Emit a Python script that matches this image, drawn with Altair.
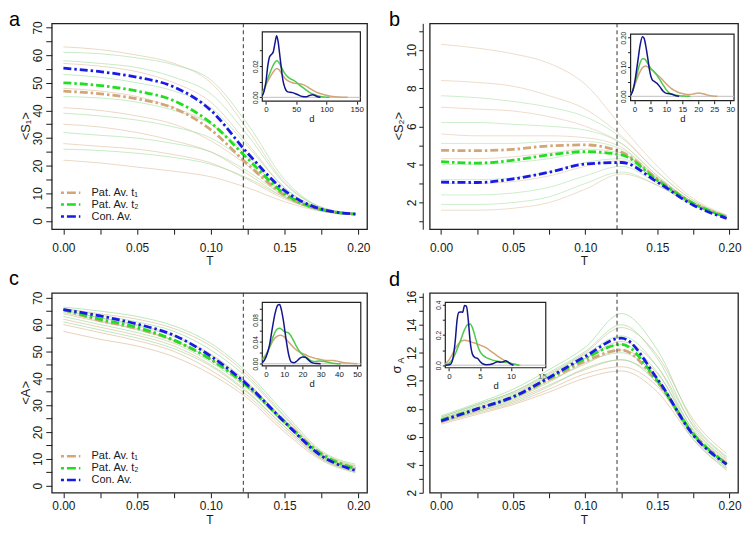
import altair as alt
import pandas as pd

# ---------------- shared values ----------------
T_GRID = [0, 0.025, 0.05, 0.075, 0.1, 0.125, 0.15, 0.175, 0.198]
T_CRIT = [0.122]
X_DOMAIN = [-0.0079, 0.2059]
X_TICKS = [0, 0.025, 0.05, 0.075, 0.1, 0.125, 0.15, 0.175, 0.2]
X_LABELS = [0, 0.05, 0.1, 0.15, 0.2]

SERIES = ["Pat. Av. t\u2081", "Pat. Av. t\u2082", "Con. Av."]
AVG_COLORS = ["#D2A679", "#22DD22", "#1A1AE6"]
FAINT_COLORS = ["#D9B38C", "#8FD88F"]
INSET_COLORS = ["#D2A679", "#4CC94C", "#14148C"]
PANEL_LABELS = ["a", "b", "c", "d"]
Y_TITLES = ["<S\u2081>", "<S\u2082>", "<A>", "\u03c3"]

# ---------------- panel a : <S1> ----------------
A_FAINT_TAN = [
    [63, 62, 60, 57, 50, 33, 14, 5, 2.8],
    [57, 56, 54, 50, 43, 28, 12, 4.5, 2.7],
    [48, 47, 45, 41, 35, 23, 10, 4, 2.6],
    [41, 40, 38, 35, 29, 20, 9, 4, 2.6],
    [35, 34, 32, 29, 25, 17, 8.5, 3.8, 2.5],
    [28, 27, 26, 24, 21, 15, 8, 3.8, 2.5],
    [22, 21, 19.5, 18, 16, 12, 7, 3.5, 2.4],
]
A_FAINT_GREEN = [
    [61, 60.5, 59, 56.5, 51, 35, 15, 5, 2.8],
    [58, 57, 55.5, 52, 46, 31, 13.5, 4.8, 2.7],
    [53, 52, 50, 47, 41, 27, 12, 4.5, 2.7],
    [45, 44.5, 43, 40, 35, 24, 11, 4.2, 2.6],
    [39, 38, 36.5, 34, 30, 21, 10, 4, 2.6],
    [32, 31, 30, 28, 25, 18, 9, 3.8, 2.5],
    [26, 25.5, 24.5, 23, 20.5, 15.5, 8.5, 3.7, 2.5],
]
A_AVG_T1 = [47, 46, 44.2, 40.8, 33, 20.5, 9.3, 4, 2.5]
A_AVG_T2 = [50, 49, 47, 43.5, 35.5, 22.5, 9.9, 4.1, 2.5]
A_AVG_CON = [55.3, 54, 52, 48.5, 40, 24.5, 11, 4.3, 2.5]
A_YDOM = [-2.96, 71.5]
A_YTICKS = [0, 5, 10, 15, 20, 25, 30, 35, 40, 45, 50, 55, 60, 65, 70]
A_YLABELS = [0, 10, 20, 30, 40, 50, 60, 70]
A_IN_XDOM = [-6, 156]
A_IN_YDOM = [-0.0025, 0.042]
A_IN_XTICKS = [0, 50, 100, 150]
A_IN_YTICKS = [0, 0.01, 0.02, 0.03]
A_IN_YLABELS = [0, 0.02]
A_IN_CON_D = [-6, -3, 0, 3, 6, 9, 12, 15, 17.7, 20, 22, 25, 28, 31, 36, 44, 52, 60, 66, 72, 77, 81, 85, 90]
A_IN_CON_Y = [0.001, 0.004, 0.010, 0.020, 0.026, 0.0275, 0.029, 0.035, 0.0396, 0.036, 0.030, 0.020, 0.011,
              0.0065, 0.0035, 0.003, 0.0018, 0.0005, 0.0003, 0.0012, 0.0016, 0.0012, 0.0004, 0.0]
A_IN_T2_D = [-6, -2, 2, 6, 10, 14, 18, 22, 26, 30, 35, 40, 45, 50, 55, 60, 66, 72, 78, 85, 92, 100, 105]
A_IN_T2_Y = [0.002, 0.006, 0.011, 0.015, 0.019, 0.022, 0.0237, 0.022, 0.019, 0.016, 0.0135, 0.012, 0.011,
             0.0098, 0.008, 0.0065, 0.0048, 0.0032, 0.002, 0.001, 0.0004, 0.0001, 0.0]
A_IN_T1_D = [-6, -2, 2, 6, 10, 14, 18, 22, 27, 32, 38, 45, 52, 58, 65, 72, 80, 88, 96, 105, 115, 125, 135]
A_IN_T1_Y = [0.003, 0.006, 0.0095, 0.0125, 0.015, 0.0172, 0.0185, 0.0175, 0.0145, 0.012, 0.0102, 0.0092,
             0.0088, 0.0085, 0.0075, 0.0058, 0.004, 0.0026, 0.0016, 0.0009, 0.0004, 0.0001, 0.0]

# ---------------- panel b : <S2> ----------------
B_FAINT_TAN = [
    [10.3, 10.1, 9.8, 9.3, 8.2, 6.0, 3.9, 2.2, 1.35],
    [8.4, 8.3, 8.1, 7.6, 6.9, 5.5, 3.6, 2.1, 1.3],
    [7.0, 6.9, 6.8, 6.5, 6.0, 5.1, 3.4, 2.0, 1.3],
    [5.6, 5.5, 5.5, 5.5, 5.4, 4.9, 3.3, 2.0, 1.3],
    [4.3, 4.3, 4.4, 4.6, 4.8, 4.6, 3.2, 1.95, 1.25],
    [3.0, 3.0, 3.1, 3.4, 3.9, 4.2, 3.1, 1.9, 1.2],
    [1.6, 1.6, 1.7, 2.0, 2.7, 3.5, 2.9, 1.85, 1.2],
]
B_FAINT_GREEN = [
    [7.6, 7.5, 7.3, 7.0, 6.5, 5.4, 3.6, 2.1, 1.3],
    [6.2, 6.2, 6.1, 6.0, 5.8, 5.1, 3.4, 2.0, 1.3],
    [5.1, 5.1, 5.1, 5.2, 5.2, 4.8, 3.3, 2.0, 1.25],
    [4.0, 4.0, 4.1, 4.3, 4.6, 4.5, 3.2, 1.95, 1.25],
    [3.2, 3.2, 3.3, 3.6, 4.1, 4.3, 3.1, 1.9, 1.2],
    [2.4, 2.4, 2.5, 2.8, 3.4, 3.9, 3.0, 1.9, 1.2],
    [1.9, 1.9, 2.0, 2.3, 3.0, 3.6, 2.9, 1.85, 1.2],
]
B_AVG_T1 = [4.74, 4.72, 4.79, 4.97, 5.02, 4.65, 3.24, 1.95, 1.26]
B_AVG_T2 = [4.14, 4.07, 4.22, 4.5, 4.67, 4.5, 3.16, 1.95, 1.22]
B_AVG_CON = [3.07, 3.05, 3.24, 3.59, 4.02, 4.1, 3.07, 1.86, 1.17]
B_YDOM = [0.6, 11.4]
B_YTICKS = [1, 2, 3, 4, 5, 6, 7, 8, 9, 10, 11]
B_YLABELS = [2, 4, 6, 8, 10]
B_IN_XDOM = [-1.2, 31.2]
B_IN_YDOM = [-0.015, 0.212]
B_IN_XTICKS = [0, 5, 10, 15, 20, 25, 30]
B_IN_YTICKS = [0, 0.05, 0.1, 0.15, 0.2]
B_IN_YLABELS = [0, 0.1, 0.2]
B_IN_CON_D = [-1.2, -0.5, 0.2, 1.0, 1.8, 2.5, 3.0, 3.5, 4.1, 4.8, 5.5, 6.3, 7.0, 8.0, 9.0, 10.0, 11.0, 12.0, 13.0, 14.0]
B_IN_CON_Y = [0.003, 0.02, 0.055, 0.115, 0.175, 0.203, 0.198, 0.175, 0.135, 0.085, 0.058, 0.05, 0.045, 0.032,
              0.017, 0.01, 0.009, 0.006, 0.002, 0.0]
B_IN_T2_D = [-1.2, -0.5, 0.5, 1.5, 2.5, 3.2, 4.0, 5.0, 6.0, 7.0, 8.0, 9.0, 10.0, 11.0, 12.5, 14.0, 16.0, 17.5]
B_IN_T2_Y = [0.003, 0.02, 0.06, 0.105, 0.128, 0.127, 0.115, 0.097, 0.085, 0.072, 0.056, 0.038, 0.022, 0.011,
             0.005, 0.002, 0.0005, 0.0]
B_IN_T1_D = [-1.2, -0.5, 0.5, 1.5, 2.5, 3.5, 4.5, 5.5, 6.5, 7.5, 8.5, 9.5, 10.5, 11.5, 12.5, 14, 15.5, 17,
             18.5, 20, 21.5, 23, 24.5, 26]
B_IN_T1_Y = [0.008, 0.02, 0.05, 0.078, 0.097, 0.103, 0.098, 0.09, 0.08, 0.07, 0.06, 0.048, 0.037, 0.027, 0.02,
             0.012, 0.008, 0.006, 0.008, 0.011, 0.009, 0.004, 0.001, 0.0]

# ---------------- panel c : <A> ----------------
C_FAINT_TAN = [
    [66, 64, 62, 58.5, 52, 41, 26, 12.5, 7.5],
    [65, 62.5, 60, 56, 49, 38.5, 24, 11.5, 6.8],
    [64, 61, 58.5, 54, 47, 36.5, 23, 11, 6.3],
    [62, 59, 56, 52, 45, 35, 22, 10.5, 5.8],
    [60, 57, 54, 50, 43, 33.5, 21, 10, 5.3],
    [57.5, 54.5, 52, 48, 41.5, 32.5, 20, 9.5, 4.8],
]
C_FAINT_GREEN = [
    [66.5, 65, 63, 59.5, 53, 42, 27, 13, 8],
    [66, 63.5, 61, 57.5, 50.5, 40, 25.5, 12, 7.2],
    [65.5, 62.5, 59.5, 55.5, 48.5, 38, 24.5, 11.5, 6.6],
    [64.5, 61.5, 58, 54, 47, 37, 23.5, 11, 6],
    [63, 60, 57, 53, 46, 36, 23, 10.5, 5.5],
    [61, 58, 55, 51, 44.5, 34.5, 22, 10, 5],
]
C_AVG_T1 = [65.5, 61.5, 58.5, 54, 47, 37, 24, 12, 6.5]
C_AVG_T2 = [65.6, 62, 59, 54.2, 47, 37, 23.7, 11.7, 6.3]
C_AVG_CON = [65.6, 63.2, 60.2, 56, 48.2, 37.5, 23.7, 11.1, 5.7]
C_YDOM = [-2.62, 71.8]
C_YTICKS = [0, 5, 10, 15, 20, 25, 30, 35, 40, 45, 50, 55, 60, 65, 70]
C_YLABELS = [0, 10, 20, 30, 40, 50, 60, 70]
C_IN_XDOM = [-2, 52]
C_IN_YDOM = [-0.004, 0.112]
C_IN_XTICKS = [0, 10, 20, 30, 40, 50]
C_IN_YTICKS = [0, 0.02, 0.04, 0.06, 0.08, 0.1]
C_IN_YLABELS = [0, 0.04, 0.08]
C_IN_CON_D = [-2, 0, 2, 3.5, 5, 6.5, 7.5, 8.5, 9.5, 11, 12.5, 14, 15.5, 17, 18.5, 20, 21.5, 23, 24.5, 26, 28, 30]
C_IN_CON_Y = [0.002, 0.012, 0.035, 0.065, 0.092, 0.107, 0.108, 0.098, 0.08, 0.045, 0.016, 0.003, 0.002, 0.005,
              0.01, 0.0125, 0.012, 0.008, 0.0035, 0.0012, 0.0003, 0.0]
C_IN_T2_D = [-2, 0, 2, 4, 6, 7.5, 9, 10.5, 12, 13.5, 15, 17, 19, 21, 23, 25, 27, 29, 31, 33, 35, 38, 41]
C_IN_T2_Y = [0.008, 0.015, 0.031, 0.05, 0.063, 0.065, 0.062, 0.058, 0.057, 0.052, 0.043, 0.03, 0.02, 0.014,
             0.01, 0.005, 0.004, 0.005, 0.0045, 0.0035, 0.002, 0.0006, 0.0]
C_IN_T1_D = [-2, 0, 2, 4, 6, 8, 10, 12, 14, 16, 18, 20, 22, 24, 26, 28, 31, 34, 37, 40, 43, 46, 50]
C_IN_T1_Y = [0.009, 0.017, 0.03, 0.043, 0.05, 0.052, 0.049, 0.041, 0.034, 0.027, 0.022, 0.019, 0.016, 0.013,
             0.011, 0.009, 0.007, 0.006, 0.006, 0.004, 0.002, 0.001, 0.0]

# ---------------- panel d : sigma_A ----------------
D_FAINT_TAN = [
    [7.4, 8.3, 9.2, 10.5, 12.0, 13.8, 11.8, 7.2, 4.8],
    [7.3, 8.1, 9.0, 10.3, 11.6, 12.8, 11.0, 6.8, 4.5],
    [7.2, 8.0, 8.8, 10.0, 11.2, 12.2, 10.5, 6.5, 4.3],
    [7.1, 7.8, 8.6, 9.7, 10.8, 11.5, 10.0, 6.2, 4.0],
    [7.0, 7.7, 8.4, 9.4, 10.5, 11.0, 9.6, 6.0, 3.8],
    [6.9, 7.6, 8.3, 9.2, 10.2, 10.7, 9.2, 5.8, 3.6],
]
D_FAINT_GREEN = [
    [7.5, 8.4, 9.4, 10.8, 12.4, 14.8, 12.2, 7.0, 4.6],
    [7.4, 8.3, 9.2, 10.6, 12.1, 14.0, 11.6, 6.7, 4.4],
    [7.3, 8.2, 9.1, 10.4, 11.9, 13.2, 11.0, 6.4, 4.2],
    [7.2, 8.0, 8.9, 10.2, 11.6, 12.6, 10.6, 6.2, 4.0],
    [7.1, 7.9, 8.7, 9.9, 11.3, 12.0, 10.2, 6.0, 3.8],
    [7.0, 7.8, 8.5, 9.6, 10.9, 11.5, 9.8, 5.8, 3.7],
]
D_AVG_T1 = [7.1, 7.95, 8.8, 10.1, 11.4, 12.2, 9.9, 6.2, 4.1]
D_AVG_T2 = [7.2, 8.0, 8.85, 10.2, 11.6, 12.6, 10.0, 6.2, 4.05]
D_AVG_CON = [7.13, 7.99, 8.86, 10.24, 11.74, 13.05, 10.13, 6.1, 4.03]
D_YDOM = [2.0, 16.28]
D_YTICKS = [2, 3, 4, 5, 6, 7, 8, 9, 10, 11, 12, 13, 14, 15, 16]
D_YLABELS = [2, 4, 6, 8, 10, 12, 14, 16]
D_IN_XDOM = [-0.6, 15.6]
D_IN_YDOM = [-0.017, 0.415]
D_IN_XTICKS = [0, 5, 10, 15]
D_IN_YTICKS = [0, 0.1, 0.2, 0.3, 0.4]
D_IN_YLABELS = [0, 0.2, 0.4]
D_IN_CON_D = [-0.6, 0.2, 0.6, 1.0, 1.3, 1.6, 1.9, 2.2, 2.5, 2.8, 3.1, 3.4, 3.8, 4.2, 4.6, 5.0, 5.5, 6.0, 6.6,
              7.2, 7.8, 8.3, 8.7, 9.1, 9.5, 9.9, 10.4]
D_IN_CON_Y = [0.0, 0.005, 0.04, 0.16, 0.3, 0.35, 0.352, 0.35, 0.395, 0.39, 0.3, 0.16, 0.07, 0.05, 0.045, 0.025,
              0.008, 0.003, 0.004, 0.012, 0.022, 0.02, 0.022, 0.03, 0.022, 0.008, 0.0]
D_IN_T2_D = [-0.6, 0, 0.5, 1, 1.5, 2, 2.5, 3, 3.4, 3.8, 4.2, 4.6, 5, 5.5, 6, 6.6, 7.2, 7.8, 8.4, 9, 9.6, 10.2,
             10.8, 11.3]
D_IN_T2_Y = [0.002, 0.012, 0.035, 0.075, 0.125, 0.18, 0.235, 0.268, 0.272, 0.245, 0.19, 0.13, 0.09, 0.065, 0.05,
             0.04, 0.032, 0.026, 0.022, 0.02, 0.016, 0.01, 0.004, 0.0]
D_IN_T1_D = [-0.6, 0, 0.5, 1, 1.5, 2, 2.5, 3, 3.5, 4, 4.5, 5, 5.5, 6, 6.5, 7, 7.5, 8, 8.5, 9, 9.5, 10, 10.5,
             11, 11.5]
D_IN_T1_Y = [0.008, 0.035, 0.07, 0.11, 0.14, 0.16, 0.165, 0.162, 0.155, 0.148, 0.14, 0.133, 0.125, 0.115, 0.1,
             0.085, 0.07, 0.055, 0.042, 0.03, 0.02, 0.012, 0.006, 0.002, 0.0]

FONT = "Liberation Sans"
INK = "#1a1a1a"


def label_expr(values, fmt):
    cond = " || ".join("abs(datum.value - (%r)) < 1e-9" % v for v in values)
    return "(%s) ? format(datum.value, '%s') : ''" % (cond, fmt)


def faint_frame(lines):
    rec = []
    for i, vals in enumerate(lines):
        for t, v in zip(T_GRID, vals):
            rec.append({"T": t, "v": v, "id": i})
    return pd.DataFrame(rec)


def build_panel(p):
    W, H = p["W"], p["H"]
    xs = alt.Scale(domain=X_DOMAIN, nice=False, zero=False)
    ys = alt.Scale(domain=p["ydom"], nice=False, zero=False)
    x_axis = alt.Axis(values=X_TICKS, labelExpr=label_expr(X_LABELS, ".2f"), orient="bottom",
                      title="T", titleFontSize=12, titleFontWeight="normal", titlePadding=p["xtitlepad"],
                      labelFontSize=12, labelPadding=p["xlabpad"], tickSize=5, domain=False, grid=False,
                      labelFlush=False, labelOverlap=False, tickColor=INK, labelColor=INK, titleColor=INK)
    y_axis = alt.Axis(values=p["yticks"], labelExpr=label_expr(p["ylabels"], "d"), orient="left",
                      offset=p["yoff"], domain=p["yoff"] > 0, domainColor=INK, title=None,
                      labelAngle=270, labelAlign="center", labelBaseline="bottom",
                      labelFontSize=12, labelPadding=p["ylabpad"], tickSize=p["ytick"], grid=False,
                      labelFlush=False, labelOverlap=False, tickColor=INK, labelColor=INK)
    X = alt.X("T:Q", scale=xs, axis=x_axis)
    Y = alt.Y("v:Q", scale=ys, axis=y_axis)

    layers = []
    for lines, col in ((p["faint_tan"], FAINT_COLORS[0]), (p["faint_green"], FAINT_COLORS[1])):
        layers.append(
            alt.Chart(faint_frame(lines)).mark_line(strokeWidth=1, opacity=p["faint_op"], color=col,
                                                    interpolate="monotone")
            .encode(x=X, y=Y, detail="id:N")
        )
    if p["legend"]:
        legend = alt.Legend(title=None, orient="none", legendX=8, legendY=p["legend_y"], symbolType="stroke",
                            symbolStrokeWidth=2.5, symbolDash=[3, 3, 9, 3], symbolSize=380,
                            labelFontSize=11, labelOffset=10, rowPadding=0, padding=0,
                            clipHeight=10.5, labelColor=INK, labelFont=FONT)
    else:
        legend = None
    color = alt.Color("series:N", scale=alt.Scale(domain=SERIES, range=AVG_COLORS), legend=legend)
    for name, vals in zip(SERIES, p["avg"]):
        df = pd.DataFrame({"T": T_GRID, "v": vals, "series": name})
        layers.append(
            alt.Chart(df).mark_line(strokeWidth=2.8, strokeDash=[8, 3, 2.5, 3], interpolate="monotone")
            .encode(x=X, y=Y, color=color)
        )
    layers.append(
        alt.Chart(pd.DataFrame({"T": T_CRIT})).mark_rule(strokeDash=[4, 3], color="#333333", strokeWidth=1)
        .encode(x=X)
    )
    layers.append(
        alt.Chart(pd.DataFrame({"t": [p["label"]]})).mark_text(fontSize=20, align="left", baseline="alphabetic",
                                                               color="black", font=FONT)
        .encode(text="t:N", x=alt.value(p["lab_xy"][0]), y=alt.value(p["lab_xy"][1]))
    )
    layers.append(
        alt.Chart(pd.DataFrame({"t": [p["ytitle"]]})).mark_text(fontSize=13, angle=270, align="center",
                                                                baseline="middle", color=INK, font=FONT)
        .encode(text="t:N", x=alt.value(p["ytitle_xy"][0]), y=alt.value(p["ytitle_xy"][1]))
    )
    if p.get("ysub"):
        layers.append(
            alt.Chart(pd.DataFrame({"t": [p["ysub"]]})).mark_text(fontSize=9, angle=270, align="center",
                                                                  baseline="middle", color=INK, font=FONT)
            .encode(text="t:N", x=alt.value(p["ysub_xy"][0]), y=alt.value(p["ysub_xy"][1]))
        )
    main = alt.layer(*layers)

    # ---------- inset ----------
    il, ir, it, ib = p["inset_box"]
    ixs = alt.Scale(domain=p["in_xdom"], range=[il, ir], nice=False, zero=False)
    iys = alt.Scale(domain=p["in_ydom"], range=[ib, it], nice=False, zero=False)
    ix_axis = alt.Axis(orient="bottom", offset=-(H - ib), values=p["in_xticks"], format="d",
                       tickSize=3, labelPadding=1.5, labelFontSize=8, title="d", titleFontSize=9.5,
                       titleFontWeight="normal", titlePadding=0, domain=False, grid=False,
                       labelFlush=False, labelOverlap=False, tickColor=INK, labelColor=INK, titleColor=INK)
    iy_axis = alt.Axis(orient="left", offset=-il, values=p["in_yticks"],
                       labelExpr=label_expr(p["in_ylabels"], p["in_yfmt"]), labelAngle=270,
                       labelAlign="center", labelBaseline="bottom", tickSize=3, labelPadding=1,
                       labelFontSize=6.5, title=None, domain=False, grid=False, labelFlush=False,
                       labelOverlap=False, tickColor=INK, labelColor=INK)
    IX = lambda f: alt.X(f, scale=ixs, axis=ix_axis)
    IY = lambda f: alt.Y(f, scale=iys, axis=iy_axis)

    box_df = pd.DataFrame({"x0": [p["in_xdom"][0]], "x1": [p["in_xdom"][1]],
                           "y0": [p["in_ydom"][0]], "y1": [p["in_ydom"][1]], "z": [0]})
    ilayers = [
        alt.Chart(box_df).mark_rect(fill="white", stroke="#222222", strokeWidth=1.2)
        .encode(x=IX("x0:Q"), x2="x1:Q", y=IY("y0:Q"), y2="y1:Q"),
        alt.Chart(box_df).mark_rule(color="#BEBEBE", strokeWidth=1)
        .encode(x=IX("x0:Q"), x2="x1:Q", y=IY("z:Q")),
    ]
    for (dd, yy), col in zip(p["in_curves"], INSET_COLORS):
        df = pd.DataFrame({"d": dd, "dens": yy})
        ilayers.append(
            alt.Chart(df).mark_line(strokeWidth=1.5, color=col, interpolate="monotone")
            .encode(x=IX("d:Q"), y=IY("dens:Q"))
        )
    inset = alt.layer(*ilayers)

    return (alt.layer(main, inset)
            .resolve_scale(x="independent", y="independent")
            .properties(width=W, height=H))


panels = [
    dict(label=PANEL_LABELS[0], W=317, H=207, faint_tan=A_FAINT_TAN, faint_green=A_FAINT_GREEN, faint_op=0.5,
         avg=[A_AVG_T1, A_AVG_T2, A_AVG_CON], ydom=A_YDOM, yticks=A_YTICKS, ylabels=A_YLABELS, yoff=0,
         ytick=6, ylabpad=1, xlabpad=8, xtitlepad=2,
         legend=True, legend_y=165, lab_xy=(-43, 3), ytitle=Y_TITLES[0], ytitle_xy=(-26, 103.5),
         inset_box=(211.7, 310.3, 8.6, 78.3), in_xdom=A_IN_XDOM, in_ydom=A_IN_YDOM,
         in_xticks=A_IN_XTICKS, in_yticks=A_IN_YTICKS, in_ylabels=A_IN_YLABELS, in_yfmt=".2f",
         in_curves=[(A_IN_T1_D, A_IN_T1_Y), (A_IN_T2_D, A_IN_T2_Y), (A_IN_CON_D, A_IN_CON_Y)]),
    dict(label=PANEL_LABELS[1], W=310, H=207, faint_tan=B_FAINT_TAN, faint_green=B_FAINT_GREEN, faint_op=0.45,
         avg=[B_AVG_T1, B_AVG_T2, B_AVG_CON], ydom=B_YDOM, yticks=B_YTICKS, ylabels=B_YLABELS, yoff=7,
         ytick=4, ylabpad=0, xlabpad=8, xtitlepad=2,
         legend=False, lab_xy=(-41, 3), ytitle=Y_TITLES[1], ytitle_xy=(-31, 103.5),
         inset_box=(202.0, 306.0, 10.8, 77.8), in_xdom=B_IN_XDOM, in_ydom=B_IN_YDOM,
         in_xticks=B_IN_XTICKS, in_yticks=B_IN_YTICKS, in_ylabels=B_IN_YLABELS, in_yfmt=".2f",
         in_curves=[(B_IN_T1_D, B_IN_T1_Y), (B_IN_T2_D, B_IN_T2_Y), (B_IN_CON_D, B_IN_CON_Y)]),
    dict(label=PANEL_LABELS[2], W=317, H=201, faint_tan=C_FAINT_TAN, faint_green=C_FAINT_GREEN, faint_op=0.6,
         avg=[C_AVG_T1, C_AVG_T2, C_AVG_CON], ydom=C_YDOM, yticks=C_YTICKS, ylabels=C_YLABELS, yoff=0,
         ytick=6, ylabpad=1, xlabpad=3, xtitlepad=3,
         legend=True, legend_y=159, lab_xy=(-43, -7.7), ytitle=Y_TITLES[2], ytitle_xy=(-26, 100.5),
         inset_box=(211.7, 310.7, 9.6, 73.5), in_xdom=C_IN_XDOM, in_ydom=C_IN_YDOM,
         in_xticks=C_IN_XTICKS, in_yticks=C_IN_YTICKS, in_ylabels=C_IN_YLABELS, in_yfmt=".2f",
         in_curves=[(C_IN_T1_D, C_IN_T1_Y), (C_IN_T2_D, C_IN_T2_Y), (C_IN_CON_D, C_IN_CON_Y)]),
    dict(label=PANEL_LABELS[3], W=310, H=201, faint_tan=D_FAINT_TAN, faint_green=D_FAINT_GREEN, faint_op=0.6,
         avg=[D_AVG_T1, D_AVG_T2, D_AVG_CON], ydom=D_YDOM, yticks=D_YTICKS, ylabels=D_YLABELS, yoff=7,
         ytick=4, ylabpad=0, xlabpad=3, xtitlepad=3,
         legend=False, lab_xy=(-41, -6.7), ytitle=Y_TITLES[3], ytitle_xy=(-33, 77),
         ysub="A", ysub_xy=(-28.5, 68),
         inset_box=(15.7, 116.7, 9.6, 75.3), in_xdom=D_IN_XDOM, in_ydom=D_IN_YDOM,
         in_xticks=D_IN_XTICKS, in_yticks=D_IN_YTICKS, in_ylabels=D_IN_YLABELS, in_yfmt=".1f",
         in_curves=[(D_IN_T1_D, D_IN_T1_Y), (D_IN_T2_D, D_IN_T2_Y), (D_IN_CON_D, D_IN_CON_Y)]),
]

chart = (
    alt.concat(*[build_panel(p) for p in panels], columns=2, spacing={"row": 64, "column": 63},
               bounds="flush")
    .resolve_scale(color="independent")
    .properties(padding=0)
    .configure(font=FONT)
    .configure_view(stroke="#222222", strokeWidth=1.3)
)

chart.save("out.html", embed_options={"renderer": "svg", "actions": False})
